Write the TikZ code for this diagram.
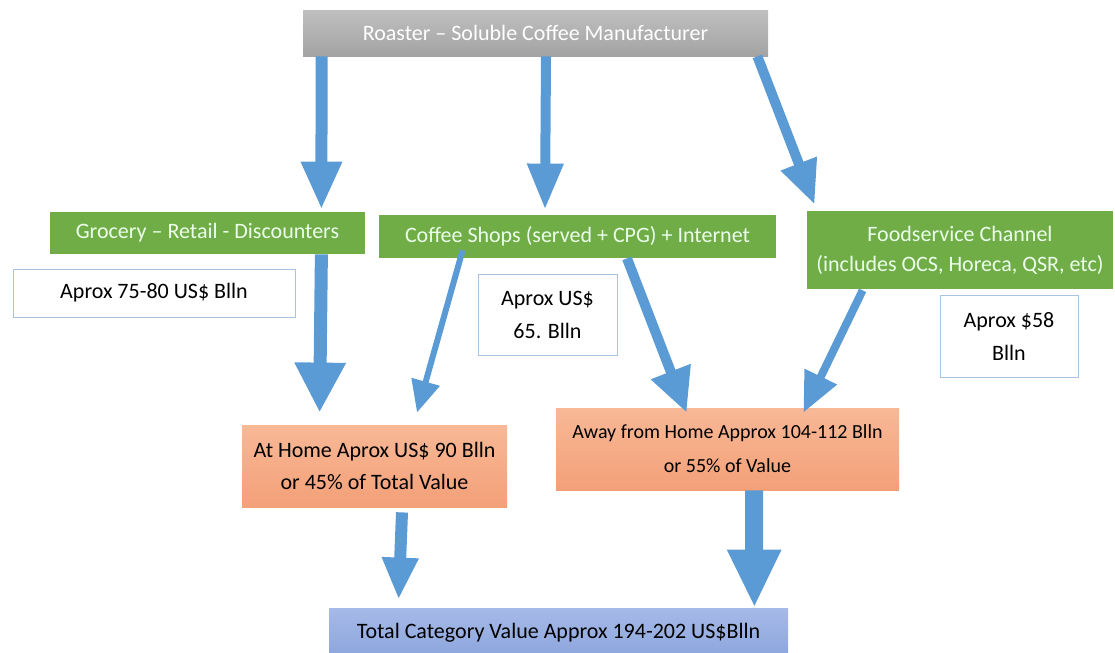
\documentclass[tikz,border=0pt]{standalone}
\usepackage{fontspec}
\setmainfont{Carlito}
\usetikzlibrary{arrows.meta,calc}

\definecolor{flowblue}{HTML}{5B9BD5}
\definecolor{chgreen}{HTML}{70AD47}
\definecolor{boxline}{HTML}{A9C4E2}

\begin{document}
\begin{tikzpicture}[x=0.5pt,y=-0.5pt,
  base/.style={inner sep=0pt, align=center, font=\fontsize{11}{16}\selectfont},
  maker/.style={base, top color=gray!50, bottom color=gray!72, text=white},
  channel/.style={base, fill=chgreen, text=green!8, font=\fontsize{11}{15}\selectfont},
  value/.style={base, draw=boxline, fill=white, font=\fontsize{11}{16.5}\selectfont},
  place/.style={base, top color={rgb,255:red,248;green,184;blue,150}, bottom color={rgb,255:red,243;green,160;blue,120}},
  total/.style={base, top color={rgb,255:red,166;green,186;blue,232}, bottom color={rgb,255:red,140;green,165;blue,220}},
  flow/.style={flowblue, line width=#1}
]
\clip (0,0) rectangle (1115,653);

% boxes
\node[maker, minimum width=232.5pt, minimum height=23pt] (roast) at (535.5,33) {Roaster -- Soluble Coffee Manufacturer};

\node[channel, minimum width=157.5pt, minimum height=21pt] (groc) at (207.5,233) {Grocery -- Retail - Discounters};
\node[channel, minimum width=198.5pt, minimum height=21.5pt] (shops) at (577.5,236.5) {Coffee Shops (served + CPG) + Internet};
\node[channel, minimum width=153pt, minimum height=39pt] (food) at (960,250) {Foodservice Channel\\(includes OCS, Horeca, QSR, etc)};

\node[value, minimum width=141pt, minimum height=24pt] (val1) at (154,293) {Aprox 75-80 US\$ Blln};
\node[value, minimum width=69.5pt, minimum height=40.5pt] (val2) at (547.5,314.5) {Aprox US\$\\65. Blln};
\node[value, minimum width=69pt, minimum height=41pt] (val3) at (1009,336) {Aprox \$58\\Blln};

\node[place, minimum width=132.5pt, minimum height=41pt] (home) at (374.5,466) {At Home Aprox US\$ 90 Blln\\or 45\% of Total Value};
\node[place, minimum width=171.5pt, minimum height=41pt, font=\fontsize{10}{17}\selectfont] (away) at (727.5,449) {Away from Home Approx 104-112 Blln\\or 55\% of Value};

\node[total, minimum width=229.5pt, minimum height=25pt] (sum) at (558.5,633) {Total Category Value Approx 194-202 US\$Blln};

% arrows
\draw[flow=6pt, -{Triangle[width=19pt,length=24pt]}] ($(roast.south west)+(19,0)$) -- ($(groc.north east)+(-44,-2)$);
\draw[flow=5pt, -{Triangle[width=17pt,length=23pt]}] ($(roast.south)+(10.5,0)$) -- ($(shops.north)+(-32.5,-5)$);
\draw[flow=5pt, -{Triangle[width=18pt,length=22pt]}] ($(roast.south east)+(-11,0)$) -- ($(food.north west)+(8,-6)$);

\draw[flow=6.5pt, -{Triangle[width=24pt,length=25pt]}] ($(groc.south east)+(-44,0)$) -- ($(home.north west)+(78,-12)$);
\draw[flow=3pt, -{Triangle[width=14pt,length=16pt]}] ($(shops.south west)+(84,-8)$) -- ($(home.north)+(42.5,-12)$);
\draw[flow=5pt, -{Triangle[width=20pt,length=22pt]}] ($(shops.south)+(49.5,0)$) -- ($(away.north west)+(131,5)$);
\draw[flow=4pt, -{Triangle[width=17pt,length=20pt]}] ($(food.south west)+(56,1)$) -- ($(away.north east)+(-96,5)$);

\draw[flow=6pt, -{Triangle[width=17pt,length=21pt]}] ($(home.south)+(27.5,5)$) -- ($(sum.north west)+(70,-8)$);
\draw[flow=9pt, -{Triangle[width=25pt,length=29pt]}] ($(away.south)+(26.5,0)$) -- ($(sum.north east)+(-34,0)$);

\end{tikzpicture}
\end{document}
